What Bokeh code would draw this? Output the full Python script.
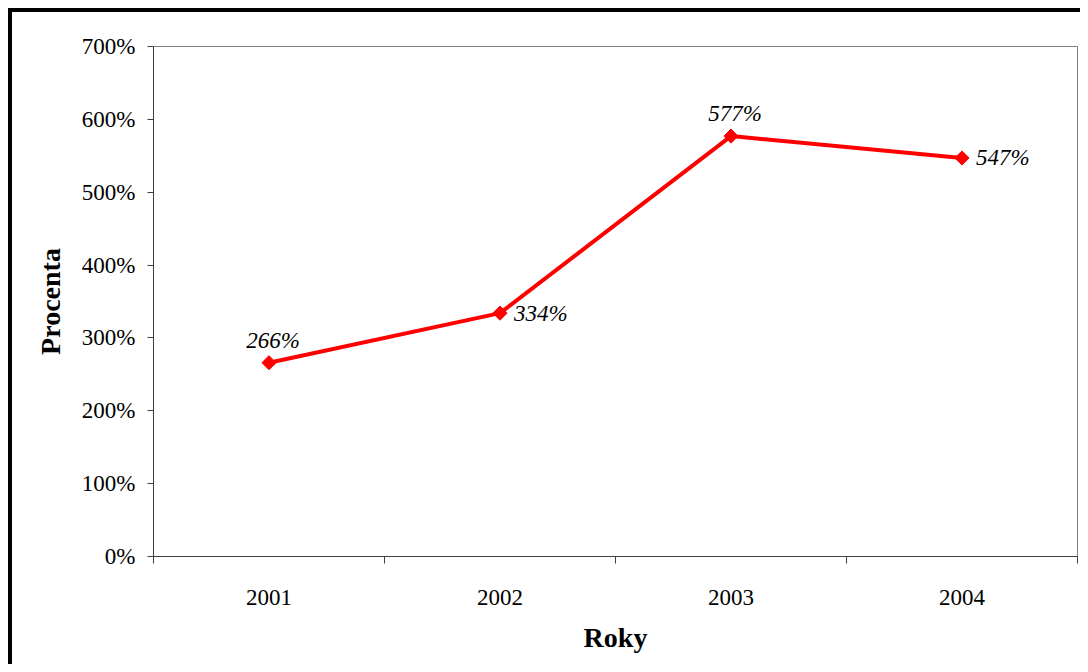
import math
from bokeh.plotting import figure
from bokeh.models import Range1d, FixedTicker, ColumnDataSource
from bokeh.embed import file_html
from bokeh.resources import INLINE
from bokeh.core.properties import value

years = ["2001", "2002", "2003", "2004"]
percent = [266, 334, 577, 547]
labels = [f"{v}%" for v in percent]
y_ticks = [0, 100, 200, 300, 400, 500, 600, 700]

x = [i + 0.5 for i in range(len(years))]

FONT = "Liberation Serif"

p = figure(width=1080, height=664, output_backend="svg", toolbar_location=None,
           x_range=Range1d(0, len(years)), y_range=Range1d(0, 700),
           min_border_left=141, min_border_top=34, min_border_right=15, min_border_bottom=120)
p.styles = {
    "box-sizing": "border-box",
    "overflow": "hidden",
    "padding-left": "12px",
    "padding-top": "12px",
    "background": ("linear-gradient(black, black) 8px 8px / 4px 100% no-repeat, "
                   "linear-gradient(black, black) 8px 8px / 100% 4px no-repeat, white"),
}
p.grid.visible = False
p.outline_line_color = "#808080"
p.outline_line_width = 1
p.background_fill_color = "white"
p.border_fill_color = "white"

xa = p.xaxis[0]
xa.ticker = FixedTicker(ticks=x, minor_ticks=list(range(len(years) + 1)))
xa.major_label_overrides = {xv: y for xv, y in zip(x, years)}
xa.major_tick_out = 0
xa.major_tick_in = 0
xa.minor_tick_out = 7
xa.minor_tick_in = 0
xa.minor_tick_line_color = "#404040"
xa.axis_line_color = "#404040"
xa.major_label_standoff = 26
xa.major_label_text_font = FONT
xa.major_label_text_font_size = "23px"
xa.major_label_text_color = "black"
xa.axis_label = "Roky"
xa.axis_label_text_font = FONT
xa.axis_label_text_font_style = "bold"
xa.axis_label_text_font_size = "28px"
xa.axis_label_text_color = "black"
xa.axis_label_standoff = 14

ya = p.yaxis[0]
ya.ticker = FixedTicker(ticks=y_ticks, minor_ticks=[])
ya.major_label_overrides = {t: f"{t}%" for t in y_ticks}
ya.major_tick_out = 6
ya.major_tick_in = 0
ya.major_tick_line_color = "#404040"
ya.axis_line_color = "#404040"
ya.major_label_standoff = 12
ya.major_label_text_font = FONT
ya.major_label_text_font_size = "23px"
ya.major_label_text_color = "black"
ya.axis_label = "Procenta"
ya.axis_label_text_font = FONT
ya.axis_label_text_font_style = "bold"
ya.axis_label_text_font_size = "28px"
ya.axis_label_text_color = "black"
ya.axis_label_standoff = 13

src = ColumnDataSource(dict(x=x, y=percent, lab=labels))
p.line("x", "y", source=src, line_color="#FF0000", line_width=4)
p.scatter("x", "y", source=src, marker="square", size=10, angle=math.pi / 4,
          fill_color="#FF0000", line_color="#FF0000", line_width=1)

above = [0, 2]
right = [1, 3]
src_above = ColumnDataSource(dict(x=[x[i] for i in above], y=[percent[i] for i in above], lab=[labels[i] for i in above]))
src_right = ColumnDataSource(dict(x=[x[i] for i in right], y=[percent[i] for i in right], lab=[labels[i] for i in right]))
p.text("x", "y", text="lab", source=src_above, text_align="center", text_baseline="bottom",
       x_offset=4, y_offset=-10, text_font=value(FONT), text_font_style="italic",
       text_font_size="23px", text_color="black")
p.text("x", "y", text="lab", source=src_right, text_align="left", text_baseline="middle",
       x_offset=14, y_offset=0, text_font=value(FONT), text_font_style="italic",
       text_font_size="23px", text_color="black")

open("out.html", "w").write(file_html(p, INLINE))
